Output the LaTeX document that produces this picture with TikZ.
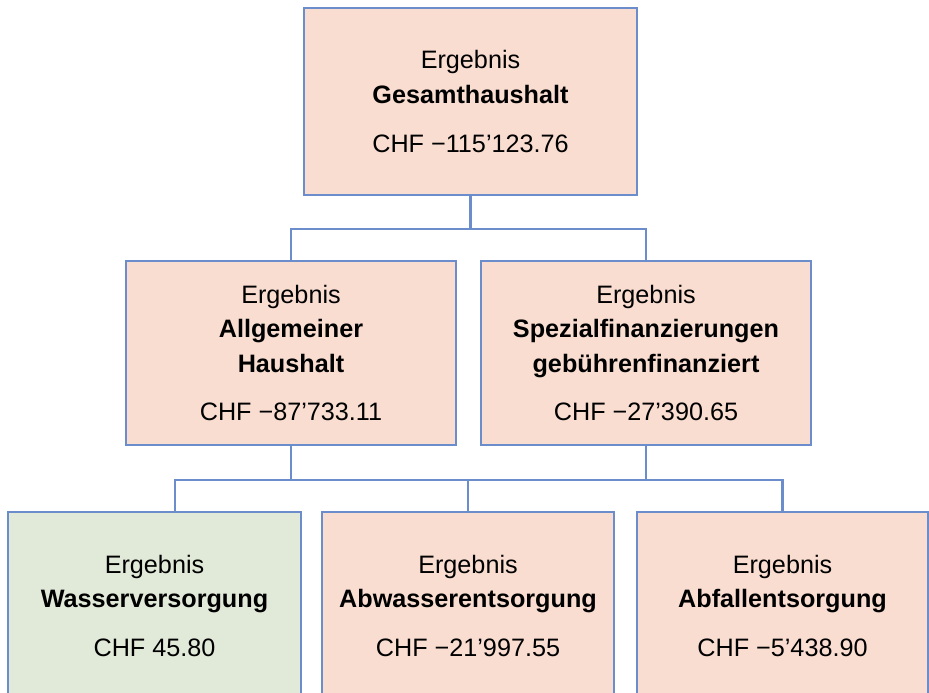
\documentclass[tikz,border=0pt]{standalone}
\usepackage{fontspec}
\setmainfont{Liberation Sans}
\definecolor{linie}{HTML}{6B8DCB}
\definecolor{pfirsich}{HTML}{F9DDD0}
\definecolor{gruen}{HTML}{E1EAD8}
\newcommand{\bfzeile}[1]{{\bfseries #1}}
\tikzset{
  boxbase/.style={draw=linie, line width=2.5pt, inner sep=0pt, align=center,
    font=\fontsize{25.2}{34.5}\selectfont, text=black},
  orangebox/.style={boxbase, fill=pfirsich},
  greenbox/.style={boxbase, fill=gruen},
  verbinder/.style={draw=linie, line width=2.5pt}
}
\begin{document}
\begin{tikzpicture}[x=1pt,y=-1pt]
\useasboundingbox (0,0) rectangle (929,693);
\clip (0,0) rectangle (929,693);
\node[orangebox, minimum width=333pt, minimum height=187pt] (top) at (470.5,101.5)
  {Ergebnis\\\bfzeile{Gesamthaushalt}\\[14.5pt]CHF −115’123.76};
\node[orangebox, minimum width=330pt, minimum height=184pt] (ml) at (291,353)
  {Ergebnis\\\bfzeile{Allgemeiner}\\\bfzeile{Haushalt}\\[14pt]CHF −87’733.11};
\node[orangebox, minimum width=330pt, minimum height=184pt] (mr) at (646,353)
  {Ergebnis\\\bfzeile{Spezialfinanzierungen}\\\bfzeile{gebührenfinanziert}\\[14pt]CHF −27’390.65};
\node[greenbox, minimum width=293pt, minimum height=188pt] (b1) at (154.5,606)
  {Ergebnis\\\bfzeile{Wasserversorgung}\\[14.5pt]CHF 45.80};
\node[orangebox, minimum width=292pt, minimum height=188pt] (b2) at (468,606)
  {Ergebnis\\\bfzeile{Abwasserentsorgung}\\[14.5pt]CHF −21’997.55};
\node[orangebox, minimum width=291pt, minimum height=188pt] (b3) at (782.5,606)
  {Ergebnis\\\bfzeile{Abfallentsorgung}\\[14.5pt]CHF −5’438.90};
\coordinate (bus1) at (0,229);
\coordinate (bus2) at (0,480);
\coordinate (b1in) at (175,512);
\path[verbinder] (top.south) -- (top.south |- bus1);
\path[verbinder] (ml.north) |- (bus1 -| mr.north) -- (mr.north);
\path[verbinder] (ml.south) -- (ml.south |- bus2);
\path[verbinder] (mr.south) -- (mr.south |- bus2);
\path[verbinder] (b1in) |- (bus2 -| b3.north) -- (b3.north);
\path[verbinder] (b2.north) -- (b2.north |- bus2);
\end{tikzpicture}
\end{document}
